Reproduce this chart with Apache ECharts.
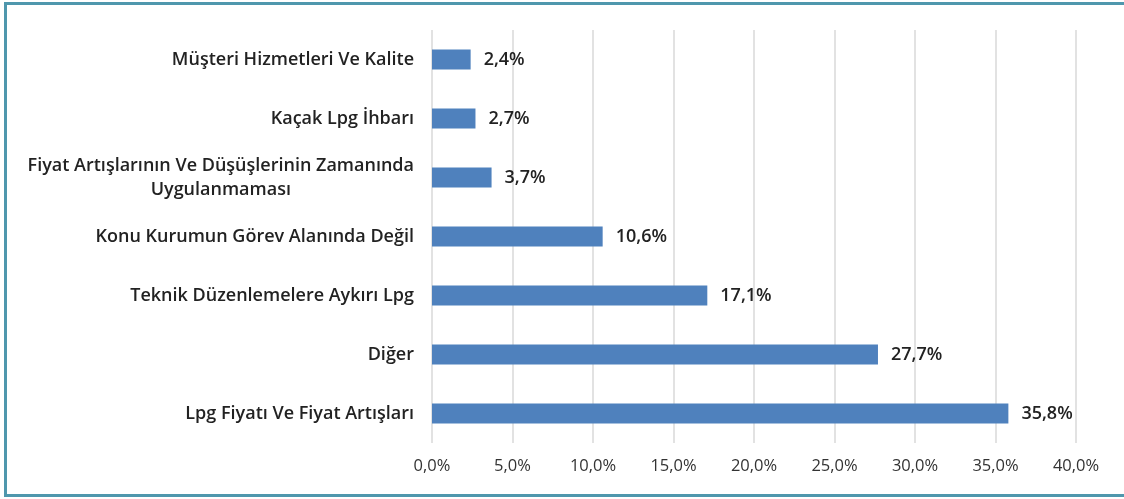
<!DOCTYPE html>
<html>
<head>
<meta charset="utf-8">
<script src="https://cdn.jsdelivr.net/npm/echarts@6/dist/echarts.min.js"></script>
<style>
  html, body { margin: 0; padding: 0; background: #fff; }
  #chart { position: absolute; left: 0; top: 0; width: 1124px; height: 499px; }
  #frame {
    position: absolute; left: 4px; top: 2px; width: 1130px; height: 489px;
    border-left: 3px solid #4f97ad; border-top: 3px solid #4f97ad; border-bottom: 3px solid #4f97ad;
    pointer-events: none;
  }
</style>
</head>
<body>
<div id="chart"></div>
<div id="frame"></div>
<script>
const categories = [
  'Müşteri Hizmetleri Ve Kalite',
  'Kaçak Lpg İhbarı',
  'Fiyat Artışlarının Ve Düşüşlerinin Zamanında\nUygulanmaması',
  'Konu Kurumun Görev Alanında Değil',
  'Teknik Düzenlemelere Aykırı Lpg',
  'Diğer',
  'Lpg Fiyatı Ve Fiyat Artışları'
];
const shares = [2.4, 2.7, 3.7, 10.6, 17.1, 27.7, 35.8];

const pct = v => v.toFixed(1).replace('.', ',') + '%';
const font = '"Open Sans", Lato, sans-serif';

const chart = echarts.init(document.getElementById('chart'));

const option = {
  animation: false,
  grid: { left: 432, right: 48, top: 30, bottom: 56, containLabel: false },
  xAxis: {
    type: 'value',
    min: 0,
    max: 40,
    interval: 5,
    axisLine: { show: false },
    axisTick: { show: false },
    axisLabel: {
      margin: 15,
      fontFamily: font,
      fontSize: 16.5,
      color: '#333',
      formatter: pct
    },
    splitLine: { lineStyle: { color: '#d9d9d9', width: 1.5 } }
  },
  yAxis: {
    type: 'category',
    inverse: true,
    data: categories,
    axisLine: { show: false },
    axisTick: { show: false },
    axisLabel: {
      margin: 18,
      fontFamily: font,
      fontSize: 18,
      fontWeight: 600,
      color: '#222',
      lineHeight: 24,
      formatter: function (v) {
        if (v.indexOf('\n') < 0) return v;
        return v.split('\n').map(s => '{c|' + s + '}').join('\n');
      },
      rich: {
        c: {
          align: 'center',
          fontFamily: font,
          fontSize: 18,
          fontWeight: 600,
          color: '#222',
          lineHeight: 24
        }
      }
    }
  },
  series: [{
    type: 'bar',
    data: shares,
    barWidth: 20,
    itemStyle: { color: '#4f81bd' },
    label: {
      show: true,
      position: 'right',
      distance: 13,
      fontFamily: font,
      fontSize: 18,
      fontWeight: 600,
      color: '#222',
      formatter: p => pct(p.value)
    }
  }]
};

chart.setOption(option);
</script>
</body>
</html>
